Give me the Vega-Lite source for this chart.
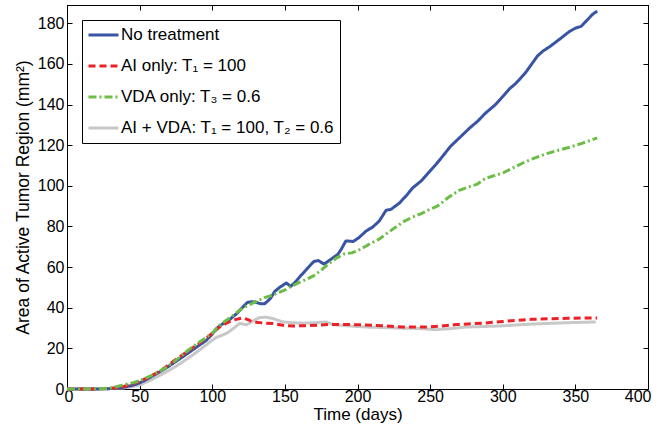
{
  "$schema": "https://vega.github.io/schema/vega-lite/v6.json",
  "width": 581,
  "height": 384,
  "autosize": "none",
  "padding": {"left": 67, "top": 5, "right": 11, "bottom": 42},
  "config": {
    "view": {"stroke": "black", "strokeWidth": 1},
    "font": "Liberation Sans",
    "axis": {
      "grid": false,
      "tickSize": -5,
      "tickColor": "black",
      "domainColor": "black",
      "labelColor": "black",
      "labelFontSize": 16,
      "labelFont": "Liberation Sans",
      "titleFont": "Liberation Sans",
      "titleFontSize": 17,
      "titleFontWeight": "normal",
      "titleColor": "black"
    },
    "legend": {
      "orient": "top-left",
      "offset": 15,
      "strokeColor": "black",
      "fillColor": "white",
      "padding": 5,
      "labelFont": "Liberation Sans",
      "labelFontSize": 17,
      "labelColor": "black",
      "labelLimit": 400,
      "labelOffset": 1,
      "symbolType": "stroke",
      "symbolSize": 900,
      "clipHeight": 20,
      "rowPadding": 11
    }
  },
  "data": {
    "values": [
      {"s": "AI + VDA: T₁ = 100, T₂ = 0.6", "t": 0, "v": 0},
      {"s": "AI + VDA: T₁ = 100, T₂ = 0.6", "t": 20, "v": 0},
      {"s": "AI + VDA: T₁ = 100, T₂ = 0.6", "t": 30, "v": 0.2},
      {"s": "AI + VDA: T₁ = 100, T₂ = 0.6", "t": 40, "v": 0.6},
      {"s": "AI + VDA: T₁ = 100, T₂ = 0.6", "t": 45, "v": 1.2},
      {"s": "AI + VDA: T₁ = 100, T₂ = 0.6", "t": 50, "v": 2},
      {"s": "AI + VDA: T₁ = 100, T₂ = 0.6", "t": 56, "v": 3.8},
      {"s": "AI + VDA: T₁ = 100, T₂ = 0.6", "t": 62, "v": 6},
      {"s": "AI + VDA: T₁ = 100, T₂ = 0.6", "t": 68, "v": 8.2},
      {"s": "AI + VDA: T₁ = 100, T₂ = 0.6", "t": 73, "v": 10.3},
      {"s": "AI + VDA: T₁ = 100, T₂ = 0.6", "t": 79, "v": 13},
      {"s": "AI + VDA: T₁ = 100, T₂ = 0.6", "t": 85, "v": 16},
      {"s": "AI + VDA: T₁ = 100, T₂ = 0.6", "t": 90, "v": 18.5},
      {"s": "AI + VDA: T₁ = 100, T₂ = 0.6", "t": 96, "v": 21.8},
      {"s": "AI + VDA: T₁ = 100, T₂ = 0.6", "t": 100, "v": 24},
      {"s": "AI + VDA: T₁ = 100, T₂ = 0.6", "t": 103, "v": 25.5},
      {"s": "AI + VDA: T₁ = 100, T₂ = 0.6", "t": 107, "v": 26.5},
      {"s": "AI + VDA: T₁ = 100, T₂ = 0.6", "t": 110, "v": 27.5},
      {"s": "AI + VDA: T₁ = 100, T₂ = 0.6", "t": 114, "v": 29.5},
      {"s": "AI + VDA: T₁ = 100, T₂ = 0.6", "t": 119, "v": 32.3},
      {"s": "AI + VDA: T₁ = 100, T₂ = 0.6", "t": 123.6, "v": 31.6},
      {"s": "AI + VDA: T₁ = 100, T₂ = 0.6", "t": 127, "v": 33},
      {"s": "AI + VDA: T₁ = 100, T₂ = 0.6", "t": 132.6, "v": 35.2},
      {"s": "AI + VDA: T₁ = 100, T₂ = 0.6", "t": 137, "v": 35.3},
      {"s": "AI + VDA: T₁ = 100, T₂ = 0.6", "t": 141.8, "v": 34.7},
      {"s": "AI + VDA: T₁ = 100, T₂ = 0.6", "t": 148.7, "v": 33},
      {"s": "AI + VDA: T₁ = 100, T₂ = 0.6", "t": 156, "v": 32.6},
      {"s": "AI + VDA: T₁ = 100, T₂ = 0.6", "t": 163, "v": 32.4},
      {"s": "AI + VDA: T₁ = 100, T₂ = 0.6", "t": 170, "v": 32.6},
      {"s": "AI + VDA: T₁ = 100, T₂ = 0.6", "t": 178.5, "v": 33},
      {"s": "AI + VDA: T₁ = 100, T₂ = 0.6", "t": 183, "v": 31.7},
      {"s": "AI + VDA: T₁ = 100, T₂ = 0.6", "t": 195, "v": 31},
      {"s": "AI + VDA: T₁ = 100, T₂ = 0.6", "t": 206, "v": 30.5},
      {"s": "AI + VDA: T₁ = 100, T₂ = 0.6", "t": 229, "v": 30},
      {"s": "AI + VDA: T₁ = 100, T₂ = 0.6", "t": 242, "v": 29.8},
      {"s": "AI + VDA: T₁ = 100, T₂ = 0.6", "t": 254, "v": 29.2},
      {"s": "AI + VDA: T₁ = 100, T₂ = 0.6", "t": 265, "v": 29.8},
      {"s": "AI + VDA: T₁ = 100, T₂ = 0.6", "t": 274.7, "v": 30.5},
      {"s": "AI + VDA: T₁ = 100, T₂ = 0.6", "t": 297.6, "v": 31},
      {"s": "AI + VDA: T₁ = 100, T₂ = 0.6", "t": 320.5, "v": 32},
      {"s": "AI + VDA: T₁ = 100, T₂ = 0.6", "t": 343.4, "v": 32.6},
      {"s": "AI + VDA: T₁ = 100, T₂ = 0.6", "t": 364, "v": 33},

      {"s": "No treatment", "t": 0, "v": 0},
      {"s": "No treatment", "t": 10, "v": 0},
      {"s": "No treatment", "t": 20, "v": 0},
      {"s": "No treatment", "t": 30, "v": 0.2},
      {"s": "No treatment", "t": 35, "v": 0.5},
      {"s": "No treatment", "t": 40, "v": 1},
      {"s": "No treatment", "t": 45, "v": 1.8},
      {"s": "No treatment", "t": 50, "v": 3},
      {"s": "No treatment", "t": 55, "v": 4.8},
      {"s": "No treatment", "t": 62, "v": 7.7},
      {"s": "No treatment", "t": 68, "v": 10.2},
      {"s": "No treatment", "t": 73, "v": 12.6},
      {"s": "No treatment", "t": 79, "v": 15.5},
      {"s": "No treatment", "t": 85, "v": 18.5},
      {"s": "No treatment", "t": 90, "v": 21},
      {"s": "No treatment", "t": 96, "v": 24},
      {"s": "No treatment", "t": 100, "v": 27},
      {"s": "No treatment", "t": 103, "v": 29.8},
      {"s": "No treatment", "t": 107, "v": 32},
      {"s": "No treatment", "t": 110, "v": 33},
      {"s": "No treatment", "t": 114, "v": 35.4},
      {"s": "No treatment", "t": 117, "v": 37.2},
      {"s": "No treatment", "t": 121, "v": 40.3},
      {"s": "No treatment", "t": 124, "v": 42.5},
      {"s": "No treatment", "t": 127, "v": 43},
      {"s": "No treatment", "t": 130, "v": 42.7},
      {"s": "No treatment", "t": 133, "v": 42},
      {"s": "No treatment", "t": 136, "v": 41.9},
      {"s": "No treatment", "t": 140, "v": 44.5},
      {"s": "No treatment", "t": 143, "v": 48},
      {"s": "No treatment", "t": 146.4, "v": 50},
      {"s": "No treatment", "t": 151, "v": 52.2},
      {"s": "No treatment", "t": 154, "v": 50.5},
      {"s": "No treatment", "t": 157, "v": 52.5},
      {"s": "No treatment", "t": 160, "v": 55},
      {"s": "No treatment", "t": 165, "v": 59},
      {"s": "No treatment", "t": 170, "v": 62.8},
      {"s": "No treatment", "t": 173, "v": 63.2},
      {"s": "No treatment", "t": 177, "v": 61.5},
      {"s": "No treatment", "t": 182, "v": 64},
      {"s": "No treatment", "t": 186.5, "v": 66.3},
      {"s": "No treatment", "t": 189, "v": 69},
      {"s": "No treatment", "t": 192, "v": 72.9},
      {"s": "No treatment", "t": 197, "v": 72.6},
      {"s": "No treatment", "t": 201, "v": 74.5},
      {"s": "No treatment", "t": 206, "v": 77.8},
      {"s": "No treatment", "t": 210.5, "v": 79.7},
      {"s": "No treatment", "t": 215, "v": 82.7},
      {"s": "No treatment", "t": 219.7, "v": 88},
      {"s": "No treatment", "t": 223, "v": 88.4},
      {"s": "No treatment", "t": 229, "v": 91.6},
      {"s": "No treatment", "t": 234, "v": 95.5},
      {"s": "No treatment", "t": 238, "v": 99},
      {"s": "No treatment", "t": 244, "v": 102.5},
      {"s": "No treatment", "t": 249, "v": 106.5},
      {"s": "No treatment", "t": 254, "v": 110.5},
      {"s": "No treatment", "t": 258, "v": 114},
      {"s": "No treatment", "t": 264, "v": 119.4},
      {"s": "No treatment", "t": 270, "v": 123.5},
      {"s": "No treatment", "t": 277, "v": 128.3},
      {"s": "No treatment", "t": 283, "v": 132},
      {"s": "No treatment", "t": 288, "v": 135.7},
      {"s": "No treatment", "t": 295, "v": 140},
      {"s": "No treatment", "t": 301, "v": 144.7},
      {"s": "No treatment", "t": 305, "v": 148},
      {"s": "No treatment", "t": 309, "v": 150.4},
      {"s": "No treatment", "t": 316, "v": 156},
      {"s": "No treatment", "t": 320, "v": 160},
      {"s": "No treatment", "t": 324, "v": 164},
      {"s": "No treatment", "t": 328, "v": 166.5},
      {"s": "No treatment", "t": 332, "v": 168.3},
      {"s": "No treatment", "t": 337, "v": 171},
      {"s": "No treatment", "t": 341, "v": 173.2},
      {"s": "No treatment", "t": 346, "v": 176},
      {"s": "No treatment", "t": 350, "v": 177.6},
      {"s": "No treatment", "t": 354, "v": 178.5},
      {"s": "No treatment", "t": 358, "v": 181.5},
      {"s": "No treatment", "t": 362, "v": 184.5},
      {"s": "No treatment", "t": 365, "v": 186},

      {"s": "AI only: T₁ = 100", "t": 0, "v": 0},
      {"s": "AI only: T₁ = 100", "t": 20, "v": 0},
      {"s": "AI only: T₁ = 100", "t": 30, "v": 0.3},
      {"s": "AI only: T₁ = 100", "t": 38, "v": 1},
      {"s": "AI only: T₁ = 100", "t": 45, "v": 2.5},
      {"s": "AI only: T₁ = 100", "t": 50, "v": 3.8},
      {"s": "AI only: T₁ = 100", "t": 55, "v": 5.3},
      {"s": "AI only: T₁ = 100", "t": 62, "v": 8},
      {"s": "AI only: T₁ = 100", "t": 68, "v": 10.8},
      {"s": "AI only: T₁ = 100", "t": 73, "v": 13.5},
      {"s": "AI only: T₁ = 100", "t": 79, "v": 16.5},
      {"s": "AI only: T₁ = 100", "t": 85, "v": 19.5},
      {"s": "AI only: T₁ = 100", "t": 90, "v": 22},
      {"s": "AI only: T₁ = 100", "t": 96, "v": 25},
      {"s": "AI only: T₁ = 100", "t": 100, "v": 27.5},
      {"s": "AI only: T₁ = 100", "t": 105, "v": 30.5},
      {"s": "AI only: T₁ = 100", "t": 110, "v": 32.5},
      {"s": "AI only: T₁ = 100", "t": 115, "v": 34},
      {"s": "AI only: T₁ = 100", "t": 121, "v": 35},
      {"s": "AI only: T₁ = 100", "t": 125, "v": 34},
      {"s": "AI only: T₁ = 100", "t": 128, "v": 33},
      {"s": "AI only: T₁ = 100", "t": 135, "v": 32.5},
      {"s": "AI only: T₁ = 100", "t": 142, "v": 32.2},
      {"s": "AI only: T₁ = 100", "t": 150, "v": 31.2},
      {"s": "AI only: T₁ = 100", "t": 156, "v": 31},
      {"s": "AI only: T₁ = 100", "t": 165, "v": 31.2},
      {"s": "AI only: T₁ = 100", "t": 180, "v": 31.7},
      {"s": "AI only: T₁ = 100", "t": 195, "v": 31.7},
      {"s": "AI only: T₁ = 100", "t": 206, "v": 31.5},
      {"s": "AI only: T₁ = 100", "t": 220, "v": 31},
      {"s": "AI only: T₁ = 100", "t": 231, "v": 30.5},
      {"s": "AI only: T₁ = 100", "t": 247, "v": 30.5},
      {"s": "AI only: T₁ = 100", "t": 258, "v": 31},
      {"s": "AI only: T₁ = 100", "t": 268, "v": 31.7},
      {"s": "AI only: T₁ = 100", "t": 286, "v": 32.4},
      {"s": "AI only: T₁ = 100", "t": 300, "v": 33.2},
      {"s": "AI only: T₁ = 100", "t": 309, "v": 33.8},
      {"s": "AI only: T₁ = 100", "t": 320, "v": 34.3},
      {"s": "AI only: T₁ = 100", "t": 332, "v": 34.6},
      {"s": "AI only: T₁ = 100", "t": 345, "v": 34.8},
      {"s": "AI only: T₁ = 100", "t": 355, "v": 34.9},
      {"s": "AI only: T₁ = 100", "t": 365, "v": 35},

      {"s": "VDA only: T₃ = 0.6", "t": 0, "v": 0},
      {"s": "VDA only: T₃ = 0.6", "t": 10, "v": 0},
      {"s": "VDA only: T₃ = 0.6", "t": 20, "v": 0.1},
      {"s": "VDA only: T₃ = 0.6", "t": 30, "v": 0.5},
      {"s": "VDA only: T₃ = 0.6", "t": 36, "v": 1.5},
      {"s": "VDA only: T₃ = 0.6", "t": 40, "v": 2.2},
      {"s": "VDA only: T₃ = 0.6", "t": 45, "v": 3},
      {"s": "VDA only: T₃ = 0.6", "t": 50, "v": 4},
      {"s": "VDA only: T₃ = 0.6", "t": 55, "v": 5.6},
      {"s": "VDA only: T₃ = 0.6", "t": 62, "v": 8},
      {"s": "VDA only: T₃ = 0.6", "t": 68, "v": 10.5},
      {"s": "VDA only: T₃ = 0.6", "t": 73, "v": 13},
      {"s": "VDA only: T₃ = 0.6", "t": 79, "v": 16.5},
      {"s": "VDA only: T₃ = 0.6", "t": 85, "v": 20},
      {"s": "VDA only: T₃ = 0.6", "t": 90, "v": 22.5},
      {"s": "VDA only: T₃ = 0.6", "t": 96, "v": 25.5},
      {"s": "VDA only: T₃ = 0.6", "t": 100, "v": 27.5},
      {"s": "VDA only: T₃ = 0.6", "t": 103, "v": 29.8},
      {"s": "VDA only: T₃ = 0.6", "t": 107, "v": 32.5},
      {"s": "VDA only: T₃ = 0.6", "t": 110, "v": 34},
      {"s": "VDA only: T₃ = 0.6", "t": 115, "v": 36.5},
      {"s": "VDA only: T₃ = 0.6", "t": 119, "v": 38.8},
      {"s": "VDA only: T₃ = 0.6", "t": 124, "v": 41},
      {"s": "VDA only: T₃ = 0.6", "t": 130, "v": 43},
      {"s": "VDA only: T₃ = 0.6", "t": 136, "v": 45},
      {"s": "VDA only: T₃ = 0.6", "t": 141, "v": 46},
      {"s": "VDA only: T₃ = 0.6", "t": 146, "v": 47.6},
      {"s": "VDA only: T₃ = 0.6", "t": 151, "v": 49},
      {"s": "VDA only: T₃ = 0.6", "t": 154, "v": 50.4},
      {"s": "VDA only: T₃ = 0.6", "t": 160, "v": 52.5},
      {"s": "VDA only: T₃ = 0.6", "t": 165, "v": 54},
      {"s": "VDA only: T₃ = 0.6", "t": 170, "v": 55.8},
      {"s": "VDA only: T₃ = 0.6", "t": 175, "v": 58.5},
      {"s": "VDA only: T₃ = 0.6", "t": 180, "v": 61.5},
      {"s": "VDA only: T₃ = 0.6", "t": 186, "v": 64.7},
      {"s": "VDA only: T₃ = 0.6", "t": 191, "v": 66.5},
      {"s": "VDA only: T₃ = 0.6", "t": 196, "v": 67},
      {"s": "VDA only: T₃ = 0.6", "t": 200, "v": 68},
      {"s": "VDA only: T₃ = 0.6", "t": 205, "v": 70},
      {"s": "VDA only: T₃ = 0.6", "t": 210, "v": 72},
      {"s": "VDA only: T₃ = 0.6", "t": 215, "v": 73.8},
      {"s": "VDA only: T₃ = 0.6", "t": 221, "v": 77},
      {"s": "VDA only: T₃ = 0.6", "t": 227, "v": 80},
      {"s": "VDA only: T₃ = 0.6", "t": 232, "v": 82.5},
      {"s": "VDA only: T₃ = 0.6", "t": 237, "v": 84.3},
      {"s": "VDA only: T₃ = 0.6", "t": 245, "v": 86.7},
      {"s": "VDA only: T₃ = 0.6", "t": 250, "v": 88.5},
      {"s": "VDA only: T₃ = 0.6", "t": 255, "v": 90},
      {"s": "VDA only: T₃ = 0.6", "t": 262, "v": 94},
      {"s": "VDA only: T₃ = 0.6", "t": 270, "v": 97.8},
      {"s": "VDA only: T₃ = 0.6", "t": 276, "v": 99.3},
      {"s": "VDA only: T₃ = 0.6", "t": 282, "v": 100.7},
      {"s": "VDA only: T₃ = 0.6", "t": 288, "v": 103.6},
      {"s": "VDA only: T₃ = 0.6", "t": 294, "v": 105},
      {"s": "VDA only: T₃ = 0.6", "t": 300, "v": 106.3},
      {"s": "VDA only: T₃ = 0.6", "t": 307, "v": 108.8},
      {"s": "VDA only: T₃ = 0.6", "t": 316, "v": 112},
      {"s": "VDA only: T₃ = 0.6", "t": 325, "v": 114.5},
      {"s": "VDA only: T₃ = 0.6", "t": 331, "v": 116},
      {"s": "VDA only: T₃ = 0.6", "t": 337, "v": 117.3},
      {"s": "VDA only: T₃ = 0.6", "t": 346, "v": 119},
      {"s": "VDA only: T₃ = 0.6", "t": 355, "v": 121},
      {"s": "VDA only: T₃ = 0.6", "t": 365, "v": 123.6}
    ]
  },
  "layer": [
    {
      "mark": {"type": "line", "strokeCap": "butt", "strokeJoin": "round"},
      "encoding": {
        "x": {
          "field": "t", "type": "quantitative",
          "scale": {"domain": [0, 400], "nice": false},
          "axis": {"values": [0, 50, 100, 150, 200, 250, 300, 350, 400], "title": "Time (days)", "labelPadding": 4, "titlePadding": 2, "labelFlush": true, "labelFlushOffset": 3}
        },
        "y": {
          "field": "v", "type": "quantitative",
          "scale": {"domain": [0, 189], "nice": false},
          "axis": {"values": [0, 20, 40, 60, 80, 100, 120, 140, 160, 180], "title": "Area of Active Tumor Region (mm²)", "titleFontSize": 17.5, "labelPadding": 8, "titlePadding": 5, "labelFlush": false}
        },
        "color": {
          "field": "s", "type": "nominal", "title": null,
          "scale": {
            "domain": ["No treatment", "AI only: T₁ = 100", "VDA only: T₃ = 0.6", "AI + VDA: T₁ = 100, T₂ = 0.6"],
            "range": ["#3a54a4", "#ee2027", "#6cbd45", "#c8c8c8"]
          }
        },
        "strokeDash": {
          "field": "s", "type": "nominal", "title": null,
          "scale": {
            "domain": ["No treatment", "AI only: T₁ = 100", "VDA only: T₃ = 0.6", "AI + VDA: T₁ = 100, T₂ = 0.6"],
            "range": [[1, 0], [7, 4], [8, 3, 2, 3], [1, 0]]
          }
        },
        "strokeWidth": {
          "field": "s", "type": "nominal", "title": null,
          "scale": {
            "domain": ["No treatment", "AI only: T₁ = 100", "VDA only: T₃ = 0.6", "AI + VDA: T₁ = 100, T₂ = 0.6"],
            "range": [3, 3, 2.5, 4]
          }
        }
      }
    },
    {
      "mark": {"type": "point", "opacity": 0},
      "encoding": {
        "x": {
          "field": "t", "type": "quantitative",
          "axis": {"orient": "top", "values": [0, 50, 100, 150, 200, 250, 300, 350, 400], "labels": false, "title": null}
        },
        "y": {
          "field": "v", "type": "quantitative",
          "axis": {"orient": "right", "values": [0, 20, 40, 60, 80, 100, 120, 140, 160, 180], "labels": false, "title": null}
        }
      }
    }
  ],
  "resolve": {"axis": {"x": "independent", "y": "independent"}}
}
